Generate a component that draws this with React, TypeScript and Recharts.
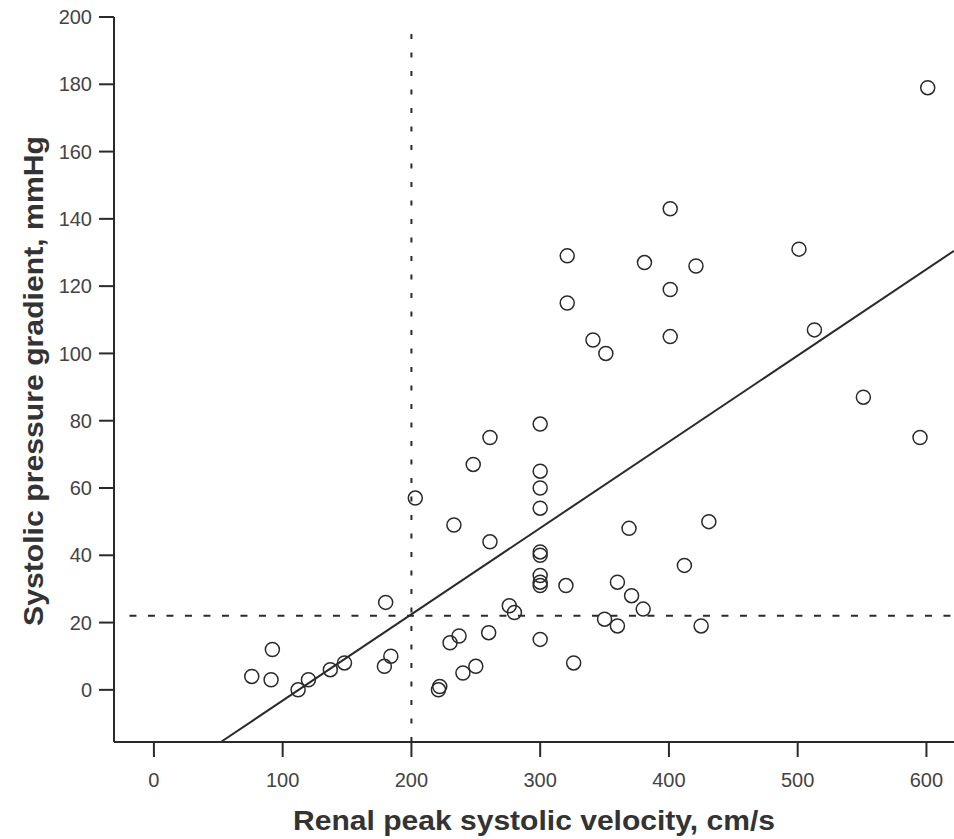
import { ScatterChart, Scatter, XAxis, YAxis, ReferenceLine, Label } from "recharts";

// renal peak systolic velocity (cm/s) vs systolic pressure gradient (mmHg)
const velocity = [
    76, 91, 92, 112, 120, 137, 148, 179, 184, 180,
    203, 222, 221, 230, 237, 240, 250, 233, 248, 261,
    261, 260, 276, 280, 300, 300, 300, 300, 300, 300,
    300, 300, 300, 300, 320, 326, 321, 321, 341, 351,
    350, 360, 360, 369, 371, 380, 381, 401, 401, 401,
    412, 421, 425, 431, 501, 513, 551, 595, 601,
];
const gradient = [
    4, 3, 12, 0, 3, 6, 8, 7, 10, 26,
    57, 1, 0, 14, 16, 5, 7, 49, 67, 75,
    44, 17, 25, 23, 79, 65, 60, 54, 41, 40,
    34, 32, 31, 15, 31, 8, 129, 115, 104, 100,
    21, 19, 32, 48, 28, 24, 127, 143, 119, 105,
    37, 126, 19, 50, 131, 107, 87, 75, 179,
];

const xTicks = [0, 100, 200, 300, 400, 500, 600];
const yTicks = [0, 20, 40, 60, 80, 100, 120, 140, 160, 180, 200];

// cut-off lines and regression fit
const velocityCutoff = 200;
const gradientCutoff = 22;
const fitX = [52, 621.4];
const fitY = [-15.5, 130.5];

const points = velocity.map((x, i) => ({ x, y: gradient[i] }));

const font = "'Liberation Sans', Arial, sans-serif";
const ink = "#2a2a2a";

const Ring = (props: any) => (
    <circle cx={props.cx} cy={props.cy} r={7} fill="none" stroke={ink} strokeWidth={1.5} />
);

export default function App() {
    return (
        <div style={{ position: "absolute", left: 0, top: 0, fontFamily: font }}>
            <ScatterChart width={954} height={839} margin={{ top: 17, right: 0, bottom: 0, left: 0 }}>
                <XAxis
                    type="number"
                    dataKey="x"
                    domain={[-31, 621.4]}
                    allowDataOverflow
                    ticks={xTicks}
                    height={97}
                    tickSize={15}
                    tickMargin={16}
                    axisLine={{ stroke: ink, strokeWidth: 2 }}
                    tickLine={{ stroke: ink, strokeWidth: 2 }}
                    tick={{ fill: "#444", fontSize: 20, fontFamily: font }}
                >
                    <Label
                        content={() => (
                            <text
                                x={534}
                                y={830}
                                textAnchor="middle"
                                fill="#333"
                                fontSize={28}
                                fontWeight="bold"
                                fontFamily={font}
                                textLength={482}
                                lengthAdjust="spacingAndGlyphs"
                            >
                                Renal peak systolic velocity, cm/s
                            </text>
                        )}
                    />
                </XAxis>
                <YAxis
                    type="number"
                    dataKey="y"
                    domain={[-15.5, 200]}
                    allowDataOverflow
                    ticks={yTicks}
                    width={114}
                    tickSize={15}
                    tickMargin={7}
                    axisLine={{ stroke: ink, strokeWidth: 2 }}
                    tickLine={{ stroke: ink, strokeWidth: 2 }}
                    tick={{ fill: "#444", fontSize: 20, fontFamily: font }}
                >
                    <Label
                        content={() => (
                            <text
                                x={43}
                                y={381}
                                transform="rotate(-90, 43, 381)"
                                textAnchor="middle"
                                fill="#333"
                                fontSize={28}
                                fontWeight="bold"
                                fontFamily={font}
                                textLength={490}
                                lengthAdjust="spacingAndGlyphs"
                            >
                                Systolic pressure gradient, mmHg
                            </text>
                        )}
                    />
                </YAxis>
                <ReferenceLine
                    segment={[{ x: velocityCutoff, y: -15.5 }, { x: velocityCutoff, y: 198 }]}
                    stroke={ink}
                    strokeWidth={2}
                    strokeDasharray="5 13.5"
                />
                <ReferenceLine
                    segment={[{ x: -19, y: gradientCutoff }, { x: 621.4, y: gradientCutoff }]}
                    stroke={ink}
                    strokeWidth={2}
                    strokeDasharray="7 11.5"
                />
                <ReferenceLine
                    segment={[{ x: fitX[0], y: fitY[0] }, { x: fitX[1], y: fitY[1] }]}
                    stroke={ink}
                    strokeWidth={2}
                />
                <Scatter data={points} shape={Ring} isAnimationActive={false} />
            </ScatterChart>
        </div>
    );
}
